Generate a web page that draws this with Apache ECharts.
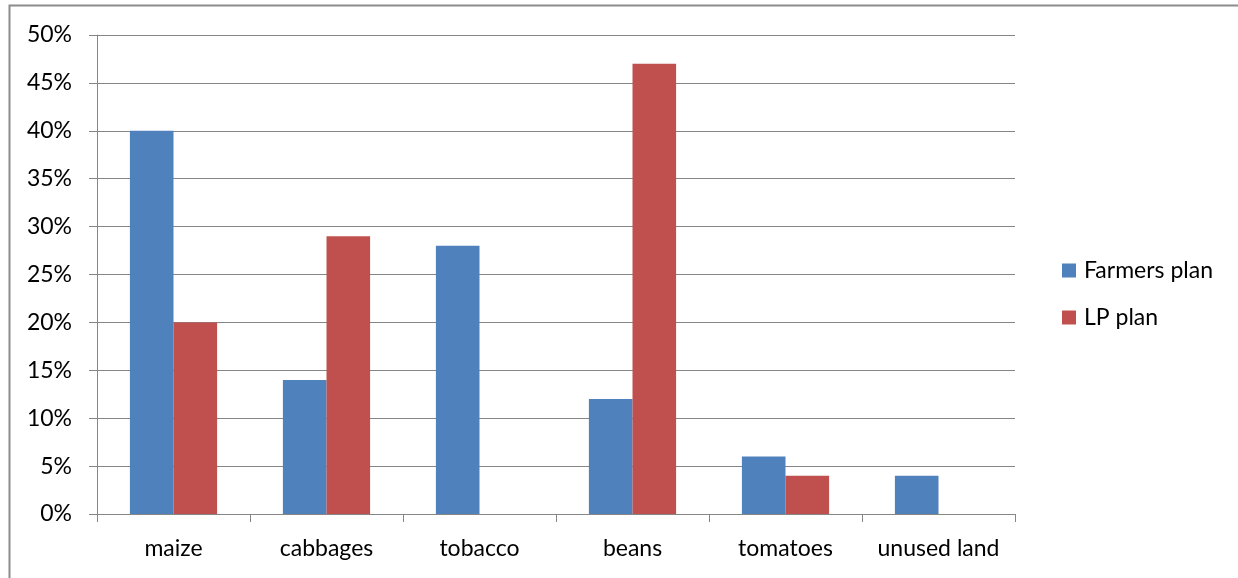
<!DOCTYPE html>
<html>
<head>
<meta charset="utf-8">
<script src="https://cdn.jsdelivr.net/npm/echarts@6/dist/echarts.min.js"></script>
<style>
  html, body { margin: 0; padding: 0; background: #fff; }
  #chart { width: 1238px; height: 578px; }
</style>
</head>
<body>
<div id="chart"></div>
<script>
// crops on the x axis
var categories = ['maize', 'cabbages', 'tobacco', 'beans', 'tomatoes', 'unused land'];
// share of land, in percent
var farmersPlan = [40, 14, 28, 12, 6, 4];
var lpPlan = [20, 29, 0, 47, 4, 0];

var font = 'Lato, "Open Sans", sans-serif';

var chart = echarts.init(document.getElementById('chart'));
chart.setOption({
    animation: false,
    graphic: [{
        type: 'rect',
        shape: { x: 9.5, y: 5.5, width: 1300, height: 700 },
        style: { fill: 'none', stroke: '#8c8c8c', lineWidth: 2 },
        silent: true
    }],
    grid: { left: 97, right: 223, top: 35, bottom: 64 },
    legend: {
        orient: 'vertical',
        left: 1057,
        top: 254,
        icon: 'rect',
        itemWidth: 14,
        itemHeight: 14,
        itemGap: 24,
        textStyle: { fontFamily: font, fontSize: 23, color: '#000', padding: [0, 0, 0, 3] },
        data: ['Farmers plan', 'LP plan']
    },
    xAxis: {
        type: 'category',
        data: categories,
        axisLine: { lineStyle: { color: '#868686', width: 1 } },
        axisTick: { show: true, length: 8, interval: 0, alignWithLabel: false, lineStyle: { color: '#868686' } },
        axisLabel: { interval: 0, fontFamily: font, fontSize: 23, color: '#000', margin: 23 }
    },
    yAxis: {
        type: 'value',
        min: 0,
        max: 50,
        interval: 5,
        axisLine: { show: true, lineStyle: { color: '#868686', width: 1 } },
        axisTick: { show: true, length: 8, lineStyle: { color: '#868686' } },
        splitLine: { lineStyle: { color: '#868686', width: 1 } },
        axisLabel: {
            fontFamily: font, fontSize: 23, color: '#000', margin: 25,
            formatter: function (v) { return v + '%'; }
        }
    },
    series: [
        {
            name: 'Farmers plan',
            type: 'bar',
            data: farmersPlan,
            barGap: '0%',
            barCategoryGap: '43%',
            itemStyle: { color: '#4F81BD' }
        },
        {
            name: 'LP plan',
            type: 'bar',
            data: lpPlan,
            itemStyle: { color: '#C0504D' }
        }
    ]
});
</script>
</body>
</html>
